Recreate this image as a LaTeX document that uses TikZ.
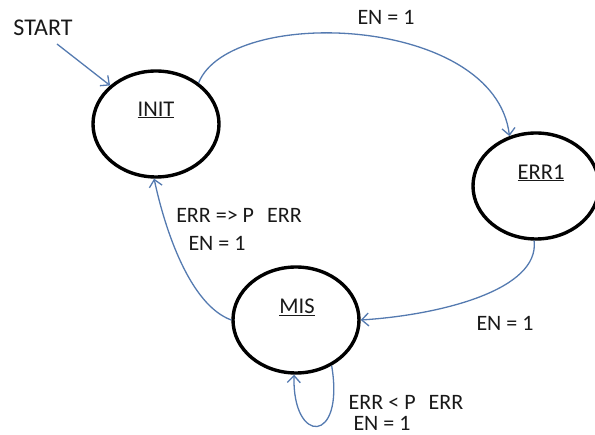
\documentclass[tikz,border=0pt]{standalone}
\usepackage{fontspec}
\setmainfont{Carlito}
\usetikzlibrary{shapes.geometric,arrows.meta}
\definecolor{edgeblue}{RGB}{84,122,176}
\definecolor{inkgrey}{RGB}{25,25,25}
\tikzset{
  state/.style={ellipse, draw=black, line width=3.4pt, minimum width=126pt, minimum height=106pt, inner sep=0pt},
  statename/.style={text=inkgrey, font=\fontsize{22.5}{26}\selectfont, inner sep=0pt},
  cond/.style={text=inkgrey, font=\fontsize{22}{26}\selectfont, inner sep=0pt},
  trans/.style={draw=edgeblue, line width=1.3pt, -{Straight Barb[length=7pt,width=13pt,line width=1.3pt]}}
}
\begin{document}
\begin{tikzpicture}[x=1pt,y=-1pt]
  \useasboundingbox (0,0) rectangle (595,435);

  % states
  \node[state] (init) at (156,124) {};
  \node[statename] (initname) at (156,110) {\underline{INIT}};
  \node[state] (err1) at (536,186) {};
  \node[statename] (err1name) at (541,173) {\underline{ERR1}};
  \node[state] (mis) at (296,320) {};
  \node[statename] (misname) at (297,307) {\underline{MIS}};

  % entry point
  \node[cond, font=\fontsize{24}{28}\selectfont] (start) at (43,28) {START};
  \coordinate (entry) at (57,44);
  \draw[trans] (entry) -- (init.140);

  % transitions
  \draw[trans] (init.44) .. controls (230,5) and (495,15) .. (err1.118);
  \draw[trans] (err1.268) .. controls (540,290) and (440,315) .. (mis.0);
  \draw[trans] (mis.180) .. controls (190,305) and (165,230) .. (init.268);
  \draw[trans] (mis.-52) .. controls (345,445) and (292,445) .. (mis.-92);

  % transition conditions
  \node[cond] (c1) at (386,17) {EN = 1};
  \node[cond] (c2) at (505,323) {EN = 1};
  \node[cond] (c3) at (239,215) {ERR => P\hspace{13pt}ERR};
  \node[cond] (c4) at (217,243) {EN = 1};
  \node[cond] (c5) at (406,402) {ERR < P\hspace{13pt}ERR};
  \node[cond] (c6) at (382,423) {EN = 1};
\end{tikzpicture}
\end{document}
